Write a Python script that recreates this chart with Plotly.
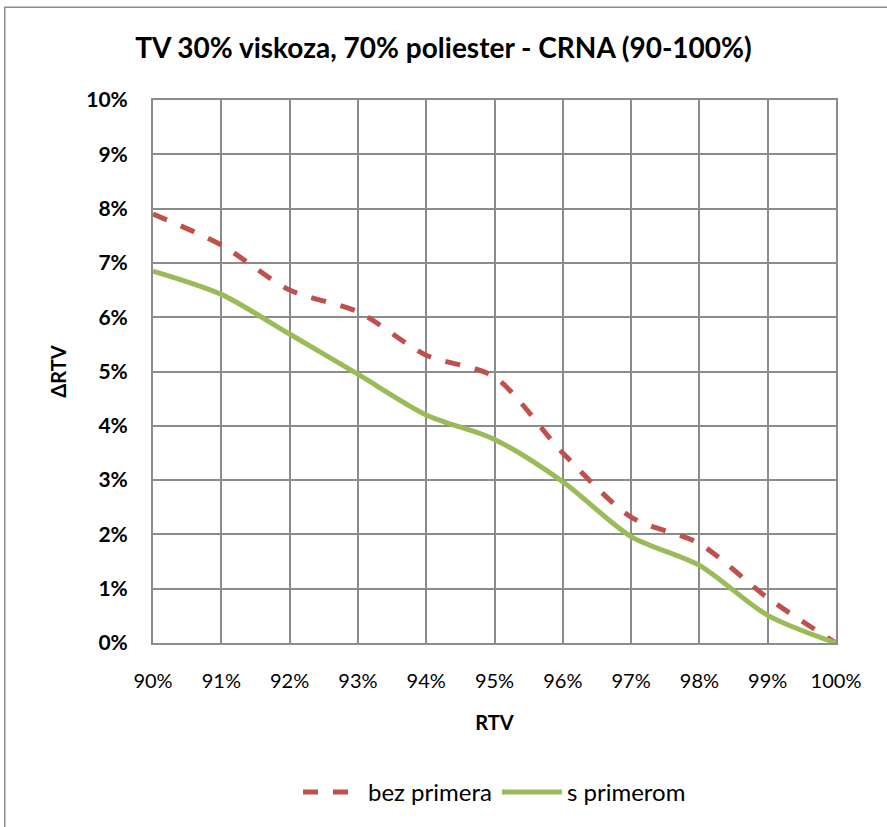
import plotly.graph_objects as go

# RTV levels (%) and the ΔRTV measured for each series (%)
rtv = [90, 91, 92, 93, 94, 95, 96, 97, 98, 99, 100]
bez_primera = [7.9, 7.33, 6.5, 6.1, 5.3, 4.9, 3.5, 2.32, 1.83, 0.83, 0.0]
s_primerom = [6.85, 6.42, 5.69, 4.95, 4.2, 3.75, 2.97, 1.96, 1.43, 0.51, 0.0]

x_ticks = list(range(90, 101))
y_ticks = list(range(0, 11))

FONT = "Lato, Carlito, 'Open Sans', sans-serif"

fig = go.Figure()
fig.add_trace(go.Scatter(
    x=rtv, y=bez_primera, name="bez primera", mode="lines",
    line=dict(color="#C0504D", width=5, dash="dash", shape="spline", smoothing=0.8),
))
fig.add_trace(go.Scatter(
    x=rtv, y=s_primerom, name="s primerom", mode="lines",
    line=dict(color="#9BBB59", width=5, shape="spline", smoothing=0.8),
))

grid = dict(showgrid=True, gridcolor="#8C8C8C", gridwidth=2, zeroline=False,
            showline=True, linecolor="#8C8C8C", linewidth=2, mirror=True, ticks="")

fig.update_layout(
    width=887, height=827,
    margin=dict(l=153, r=51, t=100, b=182),
    paper_bgcolor="white", plot_bgcolor="white",
    font=dict(family=FONT, color="black", size=20),
    title=dict(text="<b>TV 30% viskoza, 70% poliester - CRNA (90-100%)</b>",
               x=0.5, xanchor="center", y=0.942, yanchor="middle",
               font=dict(size=28, family=FONT)),
    xaxis=dict(range=[90, 100], tickvals=x_ticks,
               ticktext=[f"{v}%" for v in x_ticks],
               ticklabelstandoff=19,
               title=dict(text="<b>RTV</b>", standoff=25, font=dict(size=20)),
               tickfont=dict(size=20), **grid),
    yaxis=dict(range=[0, 10], tickvals=y_ticks,
               ticktext=[f"<b>{v}%</b>" for v in y_ticks],
               ticklabelstandoff=19,
               title=dict(text="<b>ΔRTV</b>", standoff=14, font=dict(size=20)),
               tickfont=dict(size=21), **grid),
    legend=dict(orientation="h", x=0.5, xanchor="center", y=-0.275, yanchor="middle",
                font=dict(size=24), itemwidth=60, traceorder="normal"),
    shapes=[dict(type="rect", xref="paper", yref="paper", layer="below",
                 x0=-0.217, x1=1.2, y0=-0.5, y1=1.171,
                 line=dict(color="#8C8C8C", width=1.5), fillcolor="rgba(0,0,0,0)")],
)

fig.write_html("out.html")
